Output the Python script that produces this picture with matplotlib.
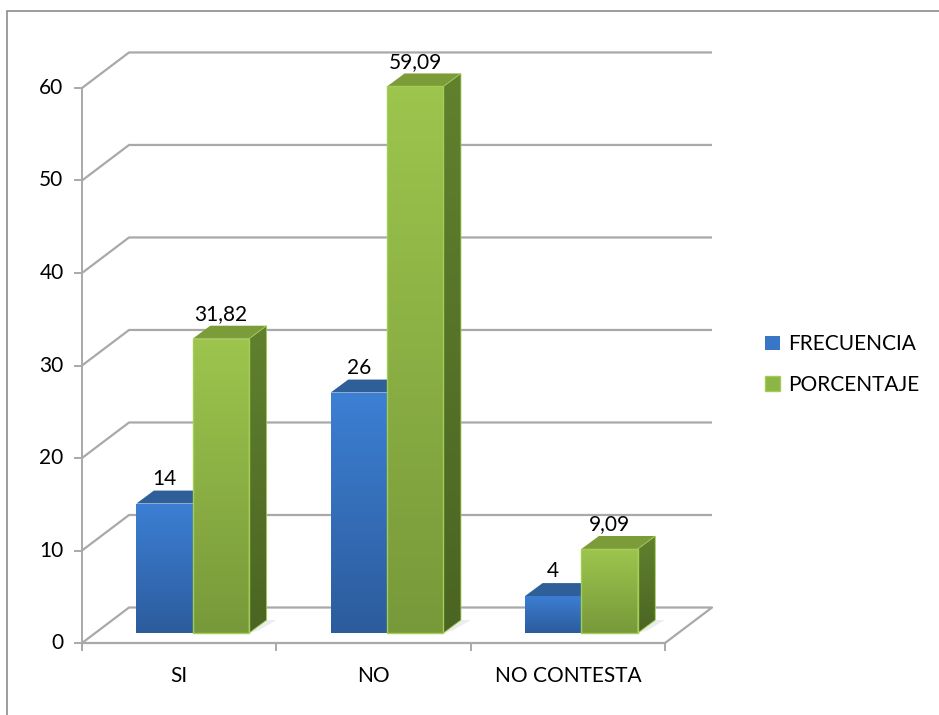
import numpy as np
import matplotlib
matplotlib.use("Agg")
import matplotlib.pyplot as plt
from matplotlib.patches import Polygon, Rectangle, Patch
from matplotlib.colors import LinearSegmentedColormap

plt.rcParams['font.family'] = ['Lato', 'DejaVu Sans']

# datos
categorias = ['SI', 'NO', 'NO CONTESTA']
frecuencia = [14, 26, 4]
porcentaje = [31.82, 59.09, 9.09]
series = ['FRECUENCIA', 'PORCENTAJE']
yticks = [0, 10, 20, 30, 40, 50, 60]

# geometria (unidades de datos: x = categoria, y = valor)
pared_dx, pared_dy = 0.242, 3.84      # desplazamiento del fondo
frente_dx, frente_dy = 0.07, 1.08     # cara frontal de las barras
prof_dx, prof_dy = 0.09, 1.4          # profundidad de cada barra
ancho = 0.29
gris = '#a9a9a9'
fs = 15

fig = plt.figure(figsize=(9.39, 7.15), dpi=100)
ax = fig.add_axes([0, 0, 1, 1])
ax.axis('off')


def degradado(ax, verts, c1, c2, z):
    # rellena un poligono con un degradado vertical (c1 arriba, c2 abajo)
    verts = np.array(verts)
    poly = Polygon(verts, closed=True, facecolor='none', edgecolor='none', zorder=z)
    ax.add_patch(poly)
    cmap = LinearSegmentedColormap.from_list('g', [c2, c1])
    grad = np.linspace(0, 1, 100).reshape(-1, 1)
    im = ax.imshow(grad, cmap=cmap, origin='lower', aspect='auto', zorder=z,
                   extent=[verts[:, 0].min(), verts[:, 0].max(),
                           verts[:, 1].min(), verts[:, 1].max()])
    im.set_clip_path(poly)


def barra(ax, x0, h, cols, z):
    y0 = frente_dy
    x0 = x0 + frente_dx
    frente = [(x0, y0), (x0 + ancho, y0), (x0 + ancho, y0 + h), (x0, y0 + h)]
    lado = [(x0 + ancho, y0), (x0 + ancho + prof_dx, y0 + prof_dy),
            (x0 + ancho + prof_dx, y0 + h + prof_dy), (x0 + ancho, y0 + h)]
    tapa = [(x0, y0 + h), (x0 + ancho, y0 + h),
            (x0 + ancho + prof_dx, y0 + h + prof_dy), (x0 + prof_dx, y0 + h + prof_dy)]
    # sombra sobre el piso
    ax.add_patch(Polygon([(x0 + ancho, y0), (x0 + ancho + 0.05, y0 + 0.3),
                          (x0 + ancho + prof_dx + 0.05, y0 + prof_dy),
                          (x0 + ancho + prof_dx, y0 + prof_dy)],
                         closed=True, facecolor='#ececec', edgecolor='none', zorder=z))
    degradado(ax, lado, cols[2], cols[3], z + 0.1)
    degradado(ax, frente, cols[0], cols[1], z + 0.2)
    ax.add_patch(Polygon(tapa, closed=True, facecolor=cols[4], edgecolor='none', zorder=z + 0.3))
    if cols[5]:
        ax.add_patch(Polygon(frente, closed=True, facecolor='none', edgecolor=cols[5],
                             lw=1.0, zorder=z + 0.4))
        ax.add_patch(Polygon(lado, closed=True, facecolor='none', edgecolor=cols[5],
                             lw=0.6, zorder=z + 0.4))


col_azul = ['#3c7fd4', '#2c5c9c', '#2a548d', '#244a7c', '#2f5f99', None]
col_verde = ['#9dc54d', '#78993a', '#61812e', '#4b6522', '#7c9c3a', '#a3cd55']

n = len(categorias)

# lineas de division (pared del fondo)
for v in yticks[1:]:
    ax.plot([0, pared_dx, n + pared_dx], [v, v + pared_dy, v + pared_dy],
            color=gris, lw=1.6, zorder=1, solid_capstyle='butt')
# piso
ax.plot([0, pared_dx, n + pared_dx, n], [0, pared_dy, pared_dy, 0],
        color=gris, lw=1.6, zorder=1)
ax.plot([0, n], [0, 0], color=gris, lw=1.6, zorder=1)

# eje y
ax.plot([0, 0], [-0.8, yticks[-1]], color=gris, lw=1.4, zorder=1)
for v in yticks:
    ax.plot([-0.035, 0], [v, v], color=gris, lw=1.4, zorder=1)
    ax.text(-0.095, v, str(v), ha='right', va='center', fontsize=fs, color='black')

# eje x
for i in range(n + 1):
    ax.plot([i, i], [0, -0.8], color=gris, lw=1.4, zorder=1)
for i, c in enumerate(categorias):
    ax.text(i + 0.5, -3.6, c, ha='center', va='center', fontsize=fs)

# barras
for i in range(n):
    centro = i + 0.5
    barra(ax, centro - ancho, frecuencia[i], col_azul, 5 + i)
    barra(ax, centro, porcentaje[i], col_verde, 5.5 + i)
    ax.text(centro - ancho / 2 + frente_dx, frecuencia[i] + 3.1, str(frecuencia[i]),
            ha='center', va='baseline', fontsize=fs, zorder=20)
    ax.text(centro + ancho / 2 + frente_dx, porcentaje[i] + 3.1,
            f'{porcentaje[i]:.2f}'.replace('.', ','),
            ha='center', va='baseline', fontsize=fs, zorder=20)

ax.set_xlim(-0.422, 4.410)
ax.set_ylim(-7.78, 69.51)

# leyenda
handles = [Patch(facecolor='#3a76c6', edgecolor='none'),
           Patch(facecolor='#8db544', edgecolor='#a3cd55')]
ax.legend(handles, series, loc='center left', bbox_to_anchor=(0.795, 0.49),
          frameon=False, fontsize=fs, handlelength=0.7, handleheight=0.7,
          handletextpad=0.4, labelspacing=1.0)

# marco del grafico
fig.patches.append(Rectangle((7 / 939, -0.5), 2, 0.5 + 1 - 11 / 715,
                             transform=fig.transFigure, facecolor='none',
                             edgecolor='#8c8c8c', lw=1.2))

fig.savefig('out.png', dpi=100)
